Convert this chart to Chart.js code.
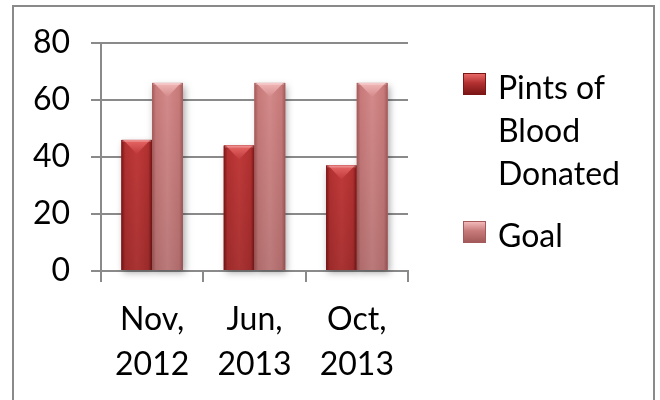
<!DOCTYPE html>
<html lang="en">
<head>
<meta charset="UTF-8">
<title>Pints of Blood Donated vs Goal</title>
<script src="https://cdn.jsdelivr.net/npm/chart.js"></script>
<style>
    html, body { margin: 0; padding: 0; background: #fff; overflow: hidden; }
    body { width: 660px; height: 400px; position: relative; font-family: 'Lato', sans-serif; }
    .frame {
        position: absolute; left: 12px; top: 5px; width: 643px; height: 420px;
        border: 2px solid #8a8a8a; box-sizing: border-box;
    }
    .chart-box { position: absolute; left: 0; top: 0; width: 660px; height: 400px; }
    #legend { position: absolute; left: 463px; top: 65px; }
    .legend-item { display: flex; align-items: flex-start; font-size: 32px; line-height: 43px; color: #000; }
    .legend-item + .legend-item { margin-top: 19px; }
    .legend-box { width: 23px; height: 22px; margin-top: 8px; margin-right: 12px; box-sizing: border-box; }
</style>
</head>
<body>
<div class="frame"></div>
<div class="chart-box"><canvas id="chart" width="660" height="400"></canvas></div>
<div id="legend"></div>

<script>
// data
const categories = [['Nov,', '2012'], ['Jun,', '2013'], ['Oct,', '2013']];
const seriesNames = [['Pints of', 'Blood', 'Donated'], ['Goal']];
const pintsDonated = [46, 44, 37];
const goal = [66, 66, 66];
const yTicks = [0, 20, 40, 60, 80];

// colours for the two series (dark edge, base, light top)
const palette = [
    { edge: '#7c1616', base: '#b23030', mid: '#c03a3a', light: '#e86868' },
    { edge: '#a45a5a', base: '#c87a7a', mid: '#d48a8a', light: '#f2b8b8' }
];

const gray = '#8a8a8a';

// paint each bar with a gradient and a bevelled top, like the original office chart
const bevelPlugin = {
    id: 'bevel',
    afterDatasetsDraw(chart) {
        const ctx = chart.ctx;
        chart.data.datasets.forEach((ds, di) => {
            const meta = chart.getDatasetMeta(di);
            const c = palette[di];
            meta.data.forEach(bar => {
                const w = bar.width;
                const x0 = bar.x - w / 2, x1 = bar.x + w / 2;
                const top = bar.y, bottom = bar.base;
                const h = bottom - top;

                // soft shadow
                ctx.save();
                ctx.shadowColor = 'rgba(0,0,0,0.35)';
                ctx.shadowBlur = 7;
                ctx.shadowOffsetX = 2;
                ctx.shadowOffsetY = 3;
                ctx.fillStyle = c.base;
                ctx.fillRect(x0, top, w, h);
                ctx.restore();

                // body: darker at the edges
                const g = ctx.createLinearGradient(x0, 0, x1, 0);
                g.addColorStop(0, c.edge);
                g.addColorStop(0.12, c.base);
                g.addColorStop(0.5, c.mid);
                g.addColorStop(0.88, c.base);
                g.addColorStop(1, c.edge);
                ctx.fillStyle = g;
                ctx.fillRect(x0, top, w, h);

                // slight darkening towards the bottom
                const v = ctx.createLinearGradient(0, top, 0, bottom);
                v.addColorStop(0, 'rgba(0,0,0,0)');
                v.addColorStop(1, 'rgba(0,0,0,0.12)');
                ctx.fillStyle = v;
                ctx.fillRect(x0, top, w, h);

                // bevelled top
                const d = Math.min(14, h);
                const t = ctx.createLinearGradient(0, top, 0, top + d);
                t.addColorStop(0, c.light);
                t.addColorStop(1, c.mid);
                ctx.beginPath();
                ctx.moveTo(x0 + 2, top);
                ctx.lineTo(x1 - 2, top);
                ctx.lineTo(bar.x, top + d);
                ctx.closePath();
                ctx.fillStyle = t;
                ctx.fill();

                ctx.fillStyle = 'rgba(255,255,255,0.25)';
                ctx.fillRect(x0 + 1, top, w - 2, 2);
            });
        });
    }
};

const ctx = document.getElementById('chart').getContext('2d');
const chart = new Chart(ctx, {
    type: 'bar',
    data: {
        labels: categories,
        datasets: [
            { label: seriesNames[0].join(' '), data: pintsDonated, backgroundColor: palette[0].base },
            { label: seriesNames[1].join(' '), data: goal, backgroundColor: palette[1].base }
        ]
    },
    options: {
        responsive: false,
        animation: false,
        layout: { padding: { top: 43, right: 252, left: 0, bottom: 0 } },
        plugins: {
            legend: { display: false },
            tooltip: { enabled: false }
        },
        datasets: {
            bar: { categoryPercentage: 0.6, barPercentage: 1, borderWidth: 0 }
        },
        scales: {
            x: {
                grid: {
                    offset: true,
                    drawOnChartArea: false,
                    drawTicks: true,
                    tickLength: 11,
                    color: gray,
                    lineWidth: 2
                },
                border: { display: true, color: gray, width: 2 },
                ticks: {
                    color: '#000',
                    padding: 15,
                    maxRotation: 0,
                    font: { family: 'Lato', size: 32, lineHeight: 1.4 }
                },
                afterFit(scale) { scale.height = 129; }
            },
            y: {
                min: yTicks[0],
                max: yTicks[yTicks.length - 1],
                afterBuildTicks(scale) { scale.ticks = yTicks.map(v => ({ value: v })); },
                grid: { color: gray, lineWidth: 2, tickLength: 10 },
                border: { display: true, color: gray, width: 2 },
                ticks: {
                    color: '#000',
                    padding: 21,
                    font: { family: 'Lato', size: 32 }
                },
                afterFit(scale) { scale.width = 101; }
            }
        }
    },
    plugins: [bevelPlugin]
});

// legend built from the series names
const legend = document.getElementById('legend');
seriesNames.forEach((name, i) => {
    const c = palette[i];
    const item = document.createElement('div');
    item.className = 'legend-item';
    const box = document.createElement('div');
    box.className = 'legend-box';
    box.style.background = `linear-gradient(to bottom, ${c.light}, ${c.base} 45%, ${c.edge})`;
    box.style.border = `1px solid ${c.edge}`;
    const text = document.createElement('div');
    text.innerHTML = name.join('<br>');
    item.appendChild(box);
    item.appendChild(text);
    legend.appendChild(item);
});
</script>
</body>
</html>
